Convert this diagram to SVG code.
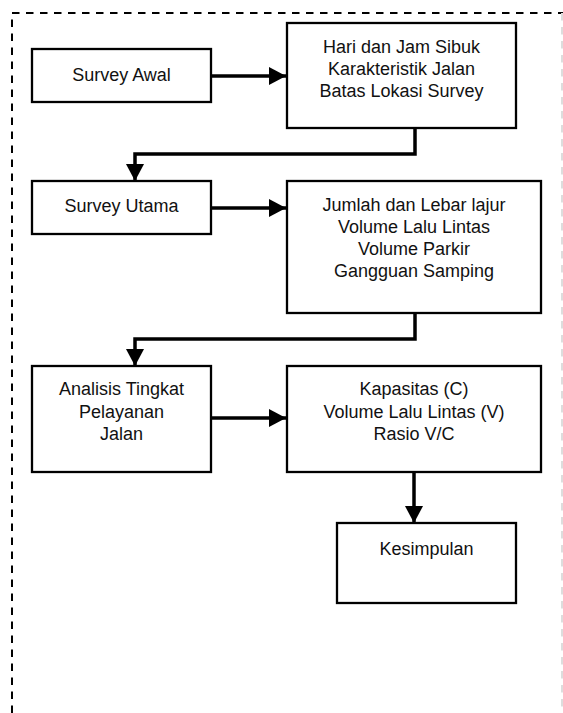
<svg xmlns="http://www.w3.org/2000/svg" width="563" height="713" viewBox="0 0 563 713">
<style>
.box{fill:#fff;stroke:#000;stroke-width:2.3}
.t{font-family:"Liberation Sans",Arial,sans-serif;font-size:18px;fill:#111;text-anchor:middle}
.c{fill:none;stroke:#000;stroke-width:3.5}
.frame{fill:none;stroke:#000;stroke-width:2;stroke-dasharray:7.5,6.5}
</style>
<defs>
<marker id="ah" markerUnits="userSpaceOnUse" markerWidth="18" markerHeight="18" refX="17" refY="9" orient="auto">
<path d="M0,0 L17,9 L0,18 Z" fill="#000"/>
</marker>
</defs>
<rect width="563" height="713" fill="#fff"/>
<g id="frame">
<path class="frame" d="M12,713 L12,13 L563,13"/>
<line x1="562" y1="13" x2="562" y2="713" stroke="#ddd" stroke-width="2" stroke-dasharray="7.5,6.5"/>
</g>
<g id="connectors">
<line class="c" x1="211" y1="76" x2="286" y2="76" marker-end="url(#ah)"/>
<path class="c" d="M415,128 L415,154 L135,154 L135,181" marker-end="url(#ah)"/>
<line class="c" x1="211" y1="208" x2="286" y2="208" marker-end="url(#ah)"/>
<path class="c" d="M415,313 L415,339 L135,339 L135,366" marker-end="url(#ah)"/>
<line class="c" x1="211" y1="418" x2="286" y2="418" marker-end="url(#ah)"/>
<line class="c" x1="414" y1="472" x2="414" y2="523" marker-end="url(#ah)"/>
</g>
<g id="survey-awal">
<rect class="box" x="32" y="49" width="179" height="53"/>
<text class="t" x="121.5" y="81">Survey Awal</text>
</g>
<g id="hari">
<rect class="box" x="287" y="23" width="229" height="105"/>
<text class="t" x="401.5" y="53">Hari dan Jam Sibuk</text>
<text class="t" x="401.5" y="75">Karakteristik Jalan</text>
<text class="t" x="401.5" y="97">Batas Lokasi Survey</text>
</g>
<g id="survey-utama">
<rect class="box" x="32" y="181" width="179" height="53"/>
<text class="t" x="121.5" y="212">Survey Utama</text>
</g>
<g id="jumlah">
<rect class="box" x="287" y="181" width="254" height="132"/>
<text class="t" x="414" y="211">Jumlah dan Lebar lajur</text>
<text class="t" x="414" y="233">Volume Lalu Lintas</text>
<text class="t" x="414" y="255">Volume Parkir</text>
<text class="t" x="414" y="277">Gangguan Samping</text>
</g>
<g id="analisis">
<rect class="box" x="32" y="366" width="179" height="106"/>
<text class="t" x="121.5" y="395">Analisis Tingkat</text>
<text class="t" x="121.5" y="418">Pelayanan</text>
<text class="t" x="121.5" y="440">Jalan</text>
</g>
<g id="kapasitas">
<rect class="box" x="287" y="366" width="254" height="106"/>
<text class="t" x="414" y="395">Kapasitas (C)</text>
<text class="t" x="414" y="418">Volume Lalu Lintas (V)</text>
<text class="t" x="414" y="440">Rasio V/C</text>
</g>
<g id="kesimpulan">
<rect class="box" x="337" y="523" width="179" height="80"/>
<text class="t" x="426.5" y="555">Kesimpulan</text>
</g>
</svg>
